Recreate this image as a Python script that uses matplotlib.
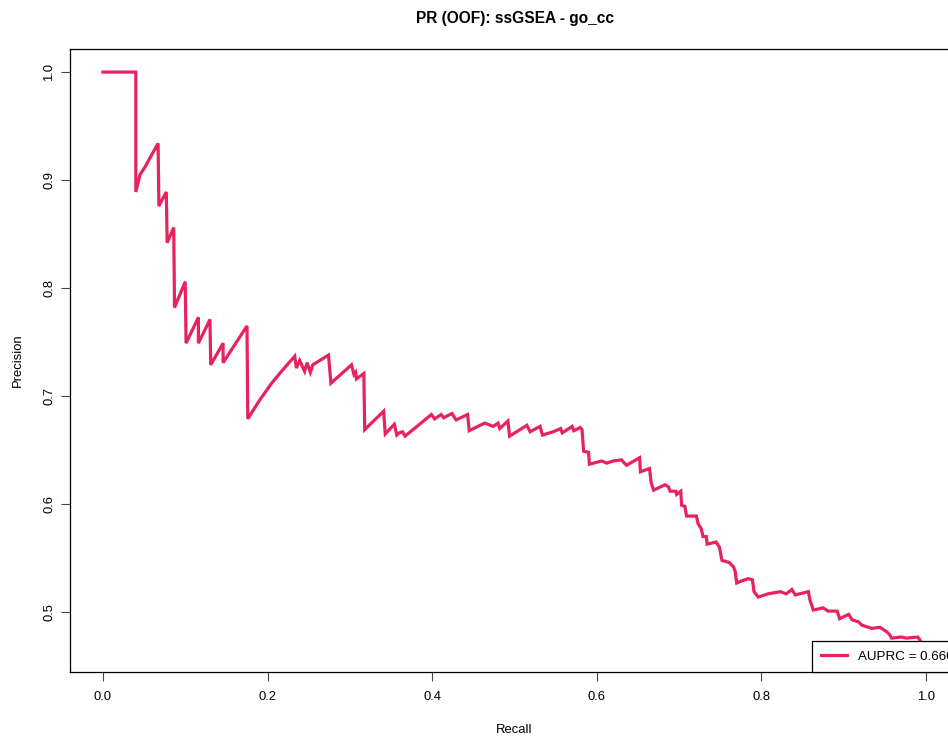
import numpy as np
import matplotlib
matplotlib.use("Agg")
import matplotlib.pyplot as plt

# Curva precision-recall (predicciones out-of-fold), puntos del trazo
recall = [0.000, 0.040, 0.040, 0.045, 0.051, 0.067, 0.068, 0.077, 0.078, 0.086,
          0.087, 0.100, 0.101, 0.116, 0.116, 0.130, 0.131, 0.146, 0.146, 0.175,
          0.176, 0.191, 0.205, 0.217, 0.233, 0.235, 0.239, 0.245, 0.248, 0.252,
          0.255, 0.274, 0.277, 0.302, 0.305, 0.307, 0.308, 0.317, 0.318, 0.341,
          0.343, 0.354, 0.357, 0.360, 0.364, 0.367, 0.380, 0.399, 0.403, 0.411,
          0.414, 0.424, 0.429, 0.443, 0.445, 0.458, 0.464, 0.474, 0.480, 0.482,
          0.492, 0.494, 0.515, 0.519, 0.531, 0.534, 0.547, 0.556, 0.558, 0.570,
          0.572, 0.580, 0.582, 0.584, 0.590, 0.591, 0.606, 0.612, 0.620, 0.630,
          0.636, 0.652, 0.653, 0.664, 0.666, 0.669, 0.683, 0.687, 0.689, 0.696,
          0.697, 0.702, 0.703, 0.707, 0.709, 0.721, 0.723, 0.727, 0.729, 0.733,
          0.734, 0.745, 0.749, 0.752, 0.761, 0.766, 0.768, 0.770, 0.776, 0.784,
          0.789, 0.791, 0.796, 0.808, 0.823, 0.830, 0.837, 0.841, 0.857, 0.859,
          0.863, 0.875, 0.881, 0.892, 0.895, 0.906, 0.910, 0.918, 0.922, 0.934,
          0.944, 0.952, 0.956, 0.958, 0.970, 0.976, 0.990, 1.000]
precision = [1.000, 1.000, 0.889, 0.905, 0.912, 0.934, 0.876, 0.889, 0.842, 0.856,
             0.782, 0.806, 0.749, 0.773, 0.749, 0.771, 0.729, 0.749, 0.731, 0.765,
             0.679, 0.697, 0.712, 0.723, 0.737, 0.726, 0.733, 0.723, 0.731, 0.722,
             0.729, 0.738, 0.712, 0.729, 0.720, 0.722, 0.716, 0.721, 0.669, 0.686,
             0.665, 0.674, 0.664, 0.666, 0.667, 0.663, 0.671, 0.683, 0.679, 0.683,
             0.680, 0.684, 0.678, 0.683, 0.668, 0.673, 0.675, 0.672, 0.675, 0.670,
             0.677, 0.663, 0.673, 0.667, 0.672, 0.664, 0.667, 0.670, 0.666, 0.672,
             0.668, 0.671, 0.669, 0.649, 0.648, 0.637, 0.640, 0.638, 0.640, 0.641,
             0.636, 0.643, 0.630, 0.633, 0.620, 0.613, 0.618, 0.616, 0.612, 0.612,
             0.609, 0.612, 0.599, 0.598, 0.589, 0.589, 0.582, 0.577, 0.570, 0.570,
             0.563, 0.565, 0.560, 0.548, 0.546, 0.542, 0.538, 0.527, 0.529, 0.531,
             0.530, 0.519, 0.514, 0.517, 0.519, 0.517, 0.521, 0.516, 0.519, 0.511,
             0.502, 0.504, 0.501, 0.501, 0.494, 0.498, 0.493, 0.491, 0.488, 0.485,
             0.486, 0.482, 0.479, 0.476, 0.477, 0.476, 0.477, 0.466]
auprc = 0.660

metodo = "ssGSEA"
coleccion = "go_cc"
color = "#E8225F"

plt.rcParams['font.family'] = ['Liberation Sans', 'DejaVu Sans']
plt.rcParams['font.size'] = 9.4

fig = plt.figure(figsize=(9.48, 7.38), dpi=100)
# el panel sigue un poco mas alla del borde derecho
ax = fig.add_axes([70/948, 66/738, 889/948, 623/738])

ax.plot(recall, precision, color=color, lw=2.3, solid_joinstyle='miter',
        label=f"AUPRC = {auprc:.3f}")

# rango con el 4% extra de cada lado
r = max(precision) - min(precision)
ax.set_xlim(-0.04, 1.04)
ax.set_ylim(min(precision) - 0.04 * r, max(precision) + 0.04 * r)
ax.set_xticks(np.arange(0, 1.01, 0.2))
ax.set_yticks(np.arange(0.5, 1.01, 0.1))
ax.xaxis.set_major_formatter(matplotlib.ticker.FormatStrFormatter('%.1f'))
ax.yaxis.set_major_formatter(matplotlib.ticker.FormatStrFormatter('%.1f'))
ax.tick_params(length=6.5, width=0.8, color='#444444')
ax.tick_params(axis='x', pad=7.5)
ax.tick_params(axis='y', pad=4)
for lab in ax.get_yticklabels():
    lab.set_rotation(90)
    lab.set_va('center')
for s in ax.spines.values():
    s.set_linewidth(0.9)

ax.set_title(f"PR (OOF): {metodo} - {coleccion}", fontsize=11.2,
             fontweight='bold', pad=19)
ax.set_xlabel("Recall", labelpad=14.5)
ax.set_ylabel("Precision", labelpad=14)

leg = ax.legend(loc='lower left', bbox_to_anchor=((812 - 70) / 889, 0.0),
                borderaxespad=0, fancybox=False, framealpha=1, edgecolor='black',
                fontsize=9.6, handlelength=1.95, handletextpad=0.83, borderpad=0.7)
leg.get_frame().set_linewidth(0.9)

plt.savefig("out.png", dpi=100)
